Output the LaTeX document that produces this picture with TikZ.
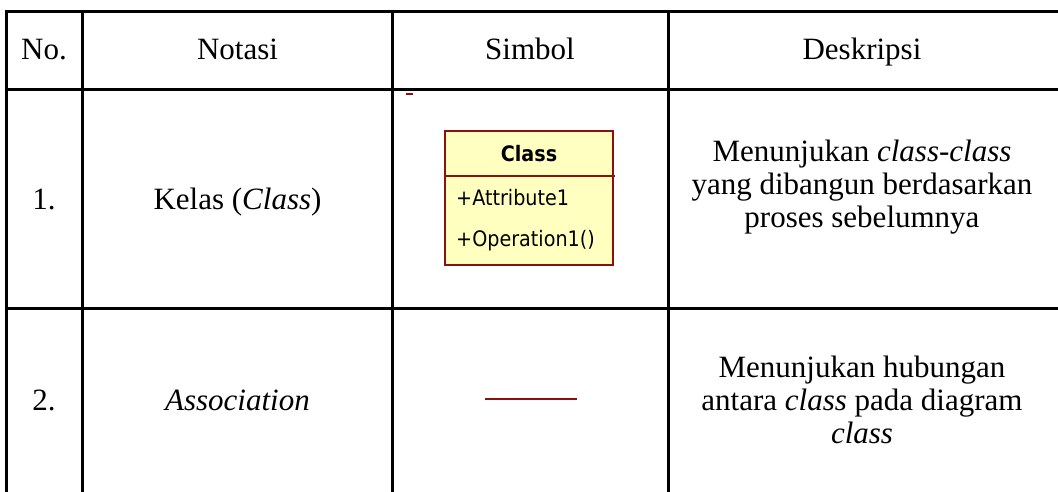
\documentclass[tikz,border=0pt]{standalone}
\usepackage{fontspec}
\setmainfont{Liberation Serif}
\newfontfamily\umlfont[FakeStretch=0.9]{DejaVu Sans}
\definecolor{umlred}{RGB}{140,16,16}
\definecolor{umlfill}{RGB}{255,255,192}
\begin{document}
\begin{tikzpicture}[x=1pt,y=-1pt,
  rule/.style={line width=3pt,black},
  cell/.style={font=\fontsize{31}{33}\selectfont,inner sep=0pt,anchor=base,align=center},
  umltext/.style={font=\umlfont\fontsize{21.3}{25}\selectfont,inner sep=0pt,anchor=base west},
  umlline/.style={line width=2pt,umlred}]
\useasboundingbox (0,0) rectangle (1058,492);
% table rules
\draw[rule] (6,12) -- (1058,12);
\draw[rule] (6,89.5) -- (1058,89.5);
\draw[rule] (6,308) -- (1058,308);
\draw[rule] (6,10.5) -- (6,492);
\draw[rule] (82,10.5) -- (82,492);
\draw[rule] (392.5,10.5) -- (392.5,492);
\draw[rule] (668.5,10.5) -- (668.5,492);
% header
\node[cell] (hno) at (44,59.5) {No.};
\node[cell] (hnot) at (237.5,59.5) {Notasi};
\node[cell] (hsim) at (530,59.5) {Simbol};
\node[cell] (hdes) at (862,59.5) {Deskripsi};
% row 1
\node[cell] (n1) at (44,209) {1.};
\node[cell] (k1) at (237.5,209) {Kelas (\textit{Class})};
\node[cell] (d1) at (862,227.5) {Menunjukan \textit{class-class}\\yang dibangun berdasarkan\\proses sebelumnya};
% small red mark
\draw[line width=2pt,umlred] (406,94.5) -- (412.5,94.5);
% class box
\draw[line width=2pt,umlred,fill=umlfill] (445,131) rectangle (613,265);
\draw[line width=2pt,umlred] (445,176) -- (614.5,176);
\node[font=\umlfont\bfseries\fontsize{21.3}{25}\selectfont,inner sep=0pt,anchor=base] (cname) at (529,161) {Class};
\node[umltext] (cattr) at (456,205) {+Attribute1};
\node[umltext] (cop) at (456,246.5) {+Operation1()};
% row 2
\node[cell] (n2) at (44,410) {2.};
\node[cell] (k2) at (237.5,410) {\textit{Association}};
\node[cell] (d2) at (862,443) {Menunjukan hubungan\\antara \textit{class} pada diagram\\\textit{class}};
\coordinate (a1) at (485,399);
\coordinate (a2) at (577,399);
\draw[umlline] (a1) -- (a2);
\end{tikzpicture}
\end{document}
